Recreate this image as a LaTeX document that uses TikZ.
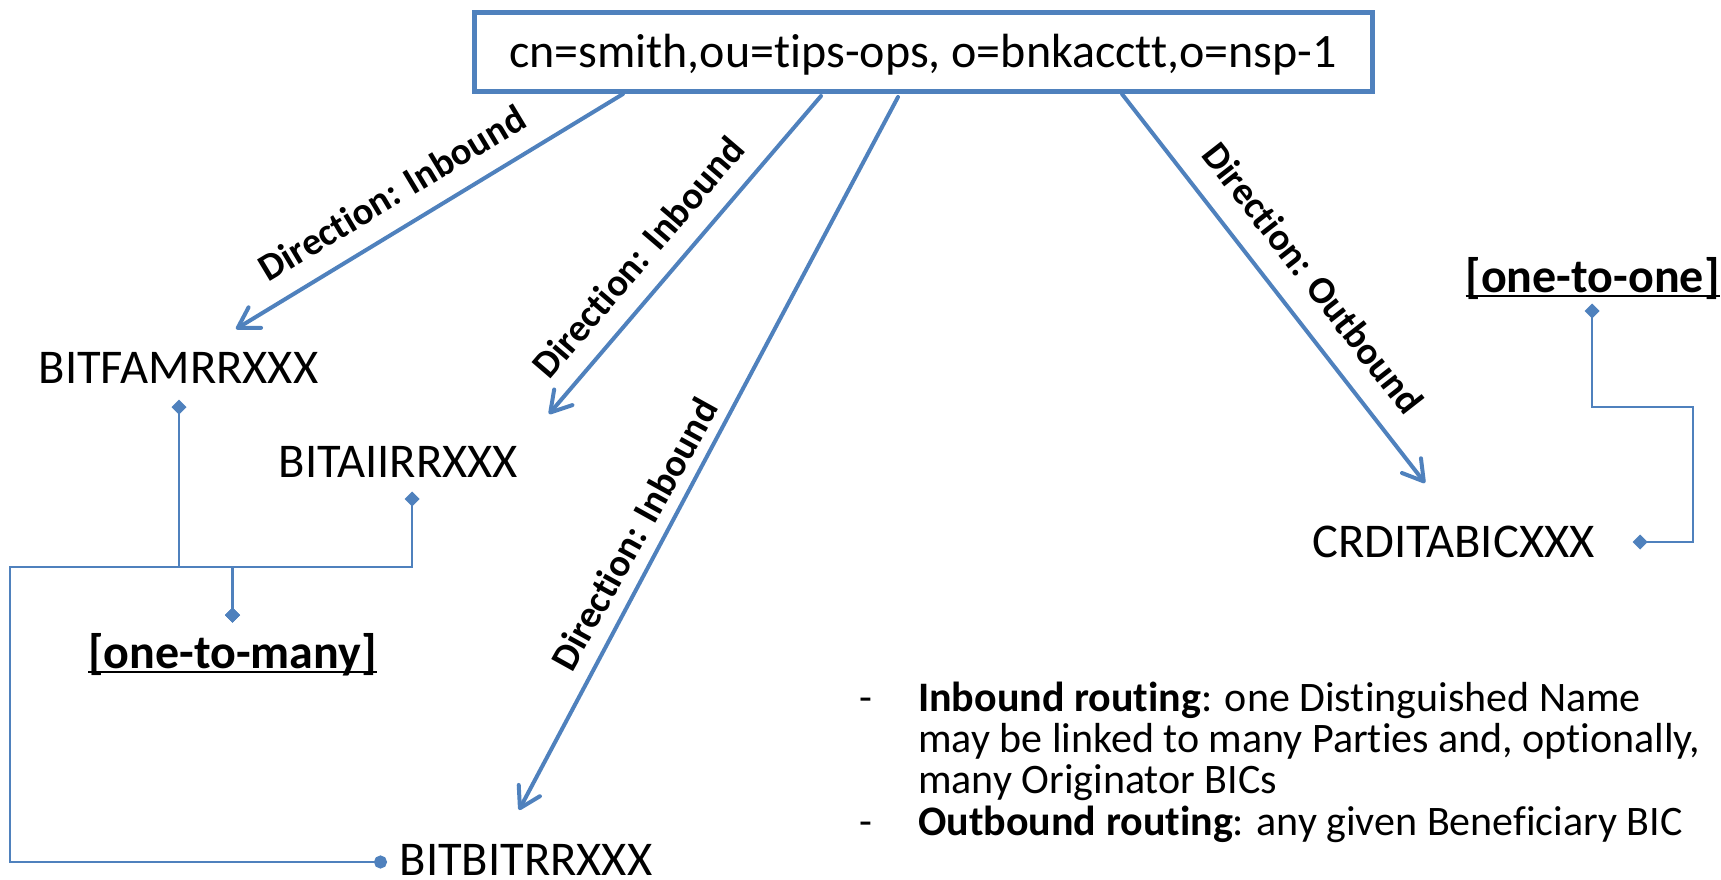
\documentclass[tikz,border=0pt]{standalone}
\usepackage{fontspec}
\setmainfont{Carlito}[Ligatures=NoCommon]
\usetikzlibrary{arrows.meta}
\definecolor{acc}{HTML}{4F81BD}
\newcommand\myul[1]{\setbox0\hbox{#1}\rlap{\rule[-5pt]{\wd0}{2.5pt}}\box0}
\begin{document}
\begin{tikzpicture}[x=1pt,y=-1pt,
  lbl/.style={font=\fontsize{48.5}{58}\selectfont, inner sep=0, anchor=base},
  tag/.style={font=\bfseries\fontsize{48}{58}\selectfont, inner sep=0, anchor=base},
  dirlbl/.style={font=\bfseries\fontsize{38.5}{46}\selectfont, inner sep=0},
  arr/.style={draw=acc, line width=4pt, line cap=round, -{Straight Barb[length=20pt,width=24pt,round]}},
  conn/.style={draw=acc, line width=2.8pt},
  dd/.style={{Diamond[length=15pt,width=15pt]}-{Diamond[length=15pt,width=15pt]}},
]
\useasboundingbox (0,0) rectangle (1721,880);

% top box
\node[draw=acc, line width=5pt, minimum width=898pt, minimum height=79pt, inner sep=0,
      text height=40pt, text depth=9pt, font=\fontsize{48}{58}\selectfont] (dn) at (923,52.5)
      {cn=smith,ou=tips-ops, o=bnkacctt,o=nsp-1};

% BIC nodes
\node[lbl] (fam) at (178.5,383) {BITFAMRRXXX};
\node[lbl] (aii) at (398.5,477) {BITAIIRRXXX};
\node[lbl] (bit) at (526,875) {BITBITRRXXX};
\node[lbl] (crd) at (1453.5,557) {CRDITABICXXX};
\node[tag] (many) at (232.5,668) {\myul{[one-to-many]}};
\node[tag] (one) at (1592.5,292) {\myul{[one-to-one]}};

% arrow end points
\coordinate (s1) at (623,94);  \coordinate (e1) at (236,329);
\coordinate (s2) at (821,96);  \coordinate (e2) at (549,414);
\coordinate (s3) at (898,97);  \coordinate (e3) at (519,810);
\coordinate (s4) at (1122,94); \coordinate (e4) at (1425,483);

\draw[arr] (s1) -- (e1);
\draw[arr] (s2) -- (e2);
\draw[arr] (s3) -- (e3);
\draw[arr] (s4) -- (e4);

\node[dirlbl, rotate=31] (l1) at (392,193) {Direction: Inbound};
\node[dirlbl, rotate=49.4] (l2) at (638,257) {Direction: Inbound};
\node[dirlbl, rotate=61] (l3) at (634,534) {Direction: Inbound};
\node[dirlbl, rotate=-52] (l4) at (1313,278) {Direction: Outbound};

% connectors
\coordinate (famd) at (179,399.5);
\coordinate (aiid) at (412,491.5);
\coordinate (manyd) at (232.5,622.5);
\coordinate (bitd) at (387,862);
\coordinate (oned) at (1592,303.5);
\coordinate (crdd) at (1632.5,542);
\coordinate (j) at (232.5,567);

\draw[conn, dd] (famd) |- (j) -- (manyd);
\draw[conn, dd] (aiid) |- (j) -- (manyd);
\draw[conn, {Circle[length=13pt]}-{Diamond[length=15pt,width=15pt]}] (bitd) -- (10,862) |- (j) -- (manyd);
\draw[conn, dd] (oned) -- (1592,407) -| (1693,542) -- (crdd);

% notes
\node[anchor=base west, inner sep=0, font=\fontsize{42}{41}\selectfont] (notes) at (859,711)
{\begin{tabular}[t]{@{}l@{}l@{}}
\makebox[59pt][l]{-} & \textbf{Inbound routing}: one Distinguished Name\\
 & may be linked to many Parties and, optionally,\\
 & many Originator BICs\\
\makebox[59pt][l]{-} & \textbf{Outbound routing}: any given Beneficiary BIC
\end{tabular}};
\end{tikzpicture}
\end{document}
